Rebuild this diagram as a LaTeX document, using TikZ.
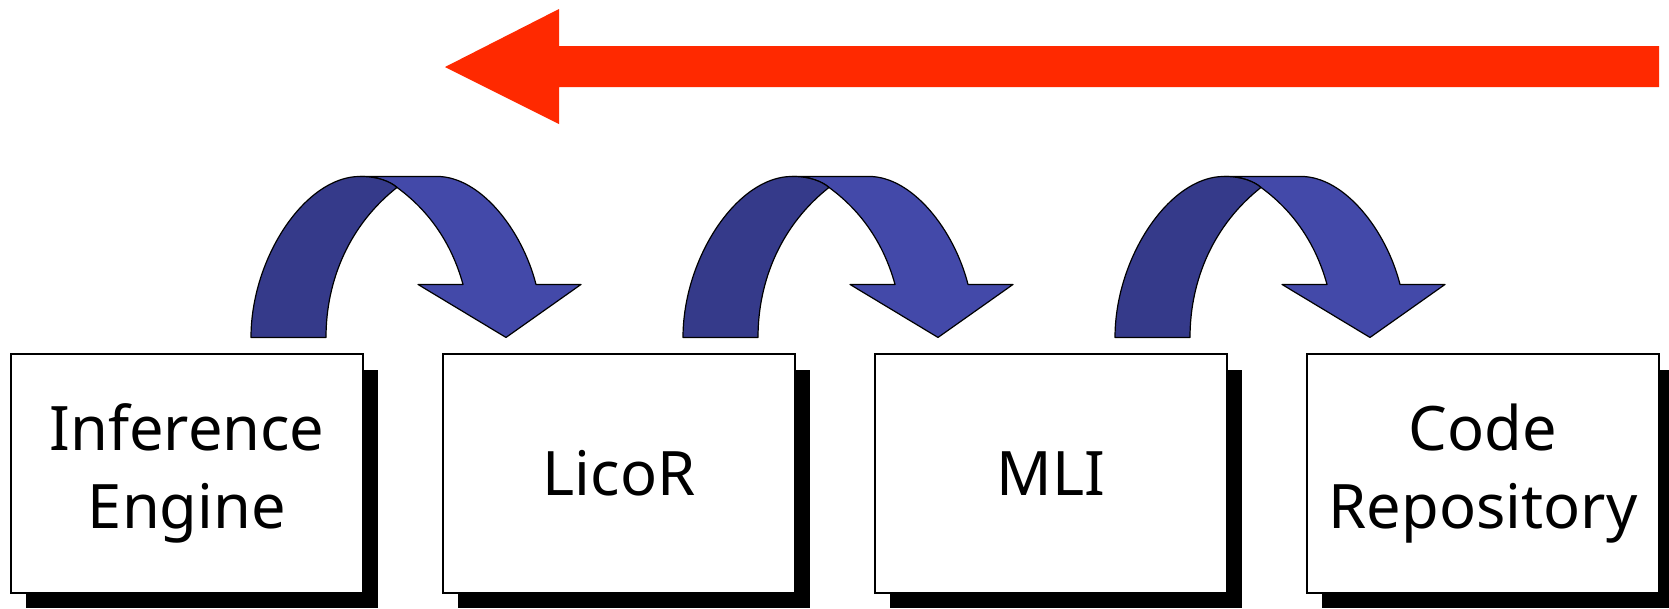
\documentclass[tikz,border=0pt]{standalone}
\usepackage{fontspec}
\setmainfont{Noto Sans}
\usetikzlibrary{shadows,calc}
\definecolor{hopdark}{RGB}{53,58,138}
\definecolor{hoplight}{RGB}{67,73,169}
\definecolor{flowred}{RGB}{255,41,0}
\tikzset{
  stagebox/.style={draw=black, line width=1.1pt, fill=white, rectangle,
    minimum width=264pt, minimum height=179pt, inner sep=0pt, align=center,
    font=\fontsize{46}{58}\selectfont,
    general shadow={fill=black, shadow xshift=11.6pt, shadow yshift=-11.6pt}},
  bandline/.style={draw=black, line width=0.9pt, line join=round},
  pics/hoparrow/.style={code={
    % lighter ribbon with the arrow head
    \path[bandline, fill=hoplight]
      (-43,-177) -- (34,-177)
      .. controls (77,-177) and (119,-124) .. (133,-69)
      -- (178,-69) -- (103,-16) -- (15,-69) -- (60,-69)
      .. controls (49,-109) and (27,-142) .. (-6,-166)
      .. controls (-13,-172) and (-25,-177) .. (-43,-177) -- cycle;
    % darker rising ribbon
    \path[bandline, fill=hopdark]
      (-152,-16) .. controls (-152,-95) and (-98,-177) .. (-43,-177)
      .. controls (-25,-177) and (-13,-172) .. (-6,-166)
      .. controls (-53,-129) and (-77,-74) .. (-77,-16) -- cycle;
  }}
}
\begin{document}
\begin{tikzpicture}[x=0.75pt, y=-0.75pt]
  \useasboundingbox[clip] (0,0) rectangle (1669,608);

  % flow direction
  \fill[flowred] (1659,46) -- (559,46) -- (559,9) -- (445,67)
    -- (559,124) -- (559,87) -- (1659,87) -- cycle;

  % stages
  \node[stagebox] (b1) at (187,473.5) {Inference\\Engine};
  \node[stagebox] (b2) at (619,473.5) {LicoR};
  \node[stagebox] (b3) at (1051,473.5) {MLI};
  \node[stagebox] (b4) at (1483,473.5) {Code\\Repository};

  % hops between neighbouring stages
  \pic at ($(b1.north east)!0.5!(b2.north west)$) {hoparrow};
  \pic at ($(b2.north east)!0.5!(b3.north west)$) {hoparrow};
  \pic at ($(b3.north east)!0.5!(b4.north west)$) {hoparrow};
\end{tikzpicture}
\end{document}
